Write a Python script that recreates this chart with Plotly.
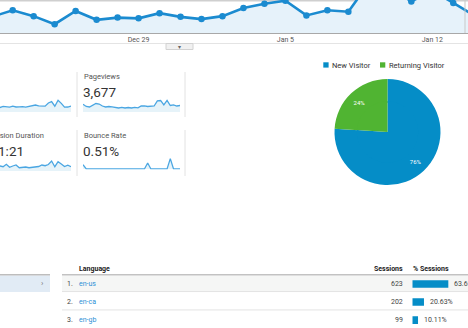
import plotly.graph_objects as go

W, H = 468, 328

# ---------------- data ----------------
# main chart (daily sessions, visible part)
dates = ['2015-12-22', '2015-12-23', '2015-12-24', '2015-12-25', '2015-12-26', '2015-12-27',
         '2015-12-28', '2015-12-29', '2015-12-30', '2015-12-31', '2016-01-01', '2016-01-02',
         '2016-01-03', '2016-01-04', '2016-01-05', '2016-01-06', '2016-01-07', '2016-01-08',
         '2016-01-09', '2016-01-10', '2016-01-11', '2016-01-12', '2016-01-13', '2016-01-14']
sessions = [22, 31, 23, 12, 30, 18, 21, 20, 27, 22, 19, 23, 34, 40, 44, 24, 31, 29, 69, 62, 43, 58, 41, 24]
tick_vals = ['2015-12-29', '2016-01-05', '2016-01-12']
tick_text = ['Dec 29', 'Jan 5', 'Jan 12']

# sparklines (31 days)
days = list(range(31))
spark_sessions = [27, 31, 24, 26, 33, 29, 23, 26, 22, 28, 25, 24, 29, 25, 26, 27, 24, 28, 32, 35,
                  31, 29, 29, 45, 52, 29, 59, 43, 24, 25, 30]
spark_pageviews = [142, 102, 93, 130, 157, 148, 111, 93, 102, 93, 83, 74, 87, 74, 83, 74, 87, 78,
                   111, 115, 102, 105, 111, 204, 213, 130, 213, 120, 130, 111, 120]
spark_duration = [85, 70, 95, 78, 88, 74, 92, 80, 90, 77, 121, 67, 90, 108, 59, 67, 72, 59, 63, 72,
                  81, 108, 95, 117, 180, 77, 167, 126, 81, 104, 77]
spark_bounce = [2.3, 0, 0, 0, 0, 0, 0, 0, 0, 0, 0, 0, 0, 0, 0, 0, 0, 0, 0, 0,
                3.2, 0, 0, 0, 0, 0, 0, 5.5, 0, 0, 0]

metric_labels = ['Pageviews', 'Avg. Session Duration', 'Bounce Rate']
metric_values = ['3,677', '00:01:21', '0.51%']

# pie
visitor_types = ['New Visitor', 'Returning Visitor']
visitor_share = [76, 24]
pie_colors = ['#058dc7', '#50b432']

# table
languages = ['en-us', 'en-ca', 'en-gb']
lang_sessions = [623, 202, 99]
lang_pct = [63.63, 20.63, 10.11]


def fx(px):
    return px / W


def fy(py):
    return 1 - py / H


FONT = 'Roboto, Arial, sans-serif'
BLUE = '#058dc7'
SPARK = '#4aa6e2'
SPARK_FILL = 'rgba(5,141,199,0.10)'

fig = go.Figure()

# main line chart
fig.add_trace(go.Scatter(
    x=dates, y=sessions, mode='lines+markers',
    line=dict(color='#1b8bd0', width=2.6),
    marker=dict(size=6.5, color='#1b8bd0'),
    fill='tozeroy', fillcolor='#e6f2fa',
    xaxis='x', yaxis='y', hoverinfo='skip', showlegend=False))

# sparklines
def spark(vals, ax):
    fig.add_trace(go.Scatter(
        x=days, y=vals, mode='lines', line=dict(color=SPARK, width=1.3),
        fill='tozeroy', fillcolor=SPARK_FILL,
        xaxis='x' + ax, yaxis='y' + ax, hoverinfo='skip', showlegend=False))

spark(spark_sessions, '2')
spark(spark_pageviews, '3')
spark(spark_duration, '4')
spark(spark_bounce, '5')

# pie: outer ring carries the labels, inner disc fills the centre
PCX, PCY, PR = 387.5, 132, 53
HOLE = 0.55
fig.add_trace(go.Pie(
    labels=visitor_types, values=visitor_share, sort=False,
    direction='clockwise', rotation=0, hole=HOLE,
    marker=dict(colors=pie_colors, line=dict(color='white', width=0)),
    textinfo='percent', texttemplate='%{percent:.0%}',
    textfont=dict(color='white', size=6, family=FONT),
    insidetextorientation='horizontal', textposition='inside',
    domain=dict(x=[fx(PCX - PR), fx(PCX + PR)], y=[fy(PCY + PR), fy(PCY - PR)]),
    hoverinfo='skip', showlegend=False))
IR = PR * (HOLE + 0.03)
fig.add_trace(go.Pie(
    labels=visitor_types, values=visitor_share, sort=False,
    direction='clockwise', rotation=0,
    marker=dict(colors=pie_colors, line=dict(color='white', width=0)),
    textinfo='none',
    domain=dict(x=[fx(PCX - IR), fx(PCX + IR)], y=[fy(PCY + IR), fy(PCY - IR)]),
    hoverinfo='skip', showlegend=False))

# table bars
fig.add_trace(go.Bar(
    x=lang_pct, y=list(range(len(languages))), orientation='h',
    marker=dict(color=BLUE, line=dict(width=0)), width=0.43,
    xaxis='x6', yaxis='y6', hoverinfo='skip', showlegend=False))

hidden = dict(visible=False, fixedrange=True)

layout = dict(
    width=W, height=H,
    margin=dict(l=0, r=0, t=0, b=0),
    paper_bgcolor='white', plot_bgcolor='rgba(0,0,0,0)',
    font=dict(family=FONT, color='#333'),
    hovermode=False,
    xaxis=dict(domain=[0, 1], type='date',
               range=['2015-12-22 09:30', '2016-01-13 16:51'],
               tickvals=tick_vals, ticktext=tick_text, ticks='',
               tickfont=dict(size=7, color='#555', family=FONT),
               showline=True, linecolor='#a8a8a8', linewidth=1,
               showgrid=False, zeroline=False, fixedrange=True),
    yaxis=dict(domain=[fy(33), 1], range=[0, 45], visible=False, fixedrange=True),
    xaxis2=dict(domain=[0, fx(71)], range=[8.04, 30], anchor='y2', **hidden),
    yaxis2=dict(domain=[fy(112), fy(98)], range=[0, 70], anchor='x2', **hidden),
    xaxis3=dict(domain=[fx(83), fx(180)], range=[0, 30], anchor='y3', **hidden),
    yaxis3=dict(domain=[fy(112), fy(98)], range=[0, 259], anchor='x3', **hidden),
    xaxis4=dict(domain=[0, fx(71)], range=[8.04, 30], anchor='y4', **hidden),
    yaxis4=dict(domain=[fy(171), fy(157)], range=[0, 252], anchor='x4', **hidden),
    xaxis5=dict(domain=[fx(83), fx(180)], range=[0, 30], anchor='y5', **hidden),
    yaxis5=dict(domain=[fy(169.5), fy(154.5)], range=[-0.3, 7.7], anchor='x5', **hidden),
    xaxis6=dict(domain=[fx(412.3), 1], range=[0, 98.4], anchor='y6', **hidden),
    yaxis6=dict(domain=[0, fy(275)], range=[2.444, -0.5], anchor='x6', **hidden),
)

shapes = []
ann = []

def line(x0, y0, x1, y1, color, width=1, layer='above'):
    shapes.append(dict(type='line', xref='paper', yref='paper', x0=fx(x0), x1=fx(x1),
                       y0=fy(y0), y1=fy(y1), line=dict(color=color, width=width), layer=layer))

def rect(x0, y0, x1, y1, fill, lcolor=None, layer='below'):
    shapes.append(dict(type='rect', xref='paper', yref='paper', x0=fx(x0), x1=fx(x1),
                       y0=fy(y1), y1=fy(y0), fillcolor=fill,
                       line=dict(color=lcolor or fill, width=1 if lcolor else 0), layer=layer))

def text(x, y, s, size=7, color='#333', anchor='left', bold=False, yref='paper'):
    ann.append(dict(x=fx(x), y=(fy(y) if yref == 'paper' else y), xref='paper', yref=yref,
                    text=('<b>%s</b>' % s) if bold else s, showarrow=False,
                    xanchor=anchor, yanchor='middle', borderpad=0,
                    font=dict(size=size, color=color, family=FONT)))

# top edge band and chart frame
rect(0, 0, W, 1.6, '#cfcfcf', layer='below')
line(465, 0, 465, 33, '#c8c8c8')
line(0, 43.5, W, 43.5, '#e4e4e4')
rect(166, 43.5, 193, 49.5, '#f1f1f1', '#d2d2d2', layer='above')
text(179.5, 46.5, '▾', size=6, color='#666', anchor='center')

# metric separators
for xs in (77, 185):
    line(xs, 72, xs, 117, '#e2e2e2')
    line(xs, 130, xs, 176, '#e2e2e2')

# metric texts
text(82.5, 76, metric_labels[0], size=7.5, color='#555')
text(82, 92, metric_values[0], size=13.5, color='#333')
text(44.5, 135, metric_labels[1], size=7.5, color='#555', anchor='right')
text(24.5, 151, metric_values[1], size=13.5, color='#333', anchor='right')
text(82.5, 135, metric_labels[2], size=7.5, color='#555')
text(82, 151, metric_values[2], size=13.5, color='#333')

# pie legend
rect(323.3, 62.3, 328.6, 67.6, pie_colors[0], layer='above')
text(331, 65, visitor_types[0], size=7.5, color='#333')
rect(380, 62.3, 385.3, 67.6, pie_colors[1], layer='above')
text(388, 65, visitor_types[1], size=7.5, color='#333')

# table
rect(0, 275.5, 50, 292, '#e1ebf5')
line(0, 274.8, 50, 274.8, '#bdbdbd', 1.5)
text(42.5, 283.8, '›', size=8, color='#777', anchor='center')
line(62, 274.8, W, 274.8, '#c2c2c2', 1.5)
shapes.append(dict(type='rect', xref='paper', yref='y6', x0=fx(62), x1=1, y0=-0.47, y1=0.42,
                   fillcolor='#f5f6f5', line=dict(width=0), layer='below'))
for yv in (0.42, 1.44):
    shapes.append(dict(type='line', xref='paper', yref='y6', x0=fx(62), x1=1, y0=yv, y1=yv,
                       line=dict(color='#e3e3e3', width=1), layer='below'))

text(78, 269, 'Language', size=7, color='#222', bold=True)
text(403.5, 269, 'Sessions', size=7, color='#222', anchor='right', bold=True)
text(412, 269, '% Sessions', size=7, color='#222', bold=True)

for i, (lang, s, p) in enumerate(zip(languages, lang_sessions, lang_pct)):
    text(65.5, i, '%d.' % (i + 1), size=7, color='#444', yref='y6')
    text(78, i, lang, size=7, color='#2b8fd6', yref='y6')
    text(403.5, i, str(s), size=7, color='#444', anchor='right', yref='y6')
    ann.append(dict(x=p, y=i, xref='x6', yref='y6', text='%.2f%%' % p, showarrow=False,
                    xanchor='left', yanchor='middle', xshift=5, borderpad=0,
                    font=dict(size=7, color='#444', family=FONT)))

layout['shapes'] = shapes
layout['annotations'] = ann
fig.update_layout(**layout)

fig.write_html('out.html', config={'displayModeBar': False})
